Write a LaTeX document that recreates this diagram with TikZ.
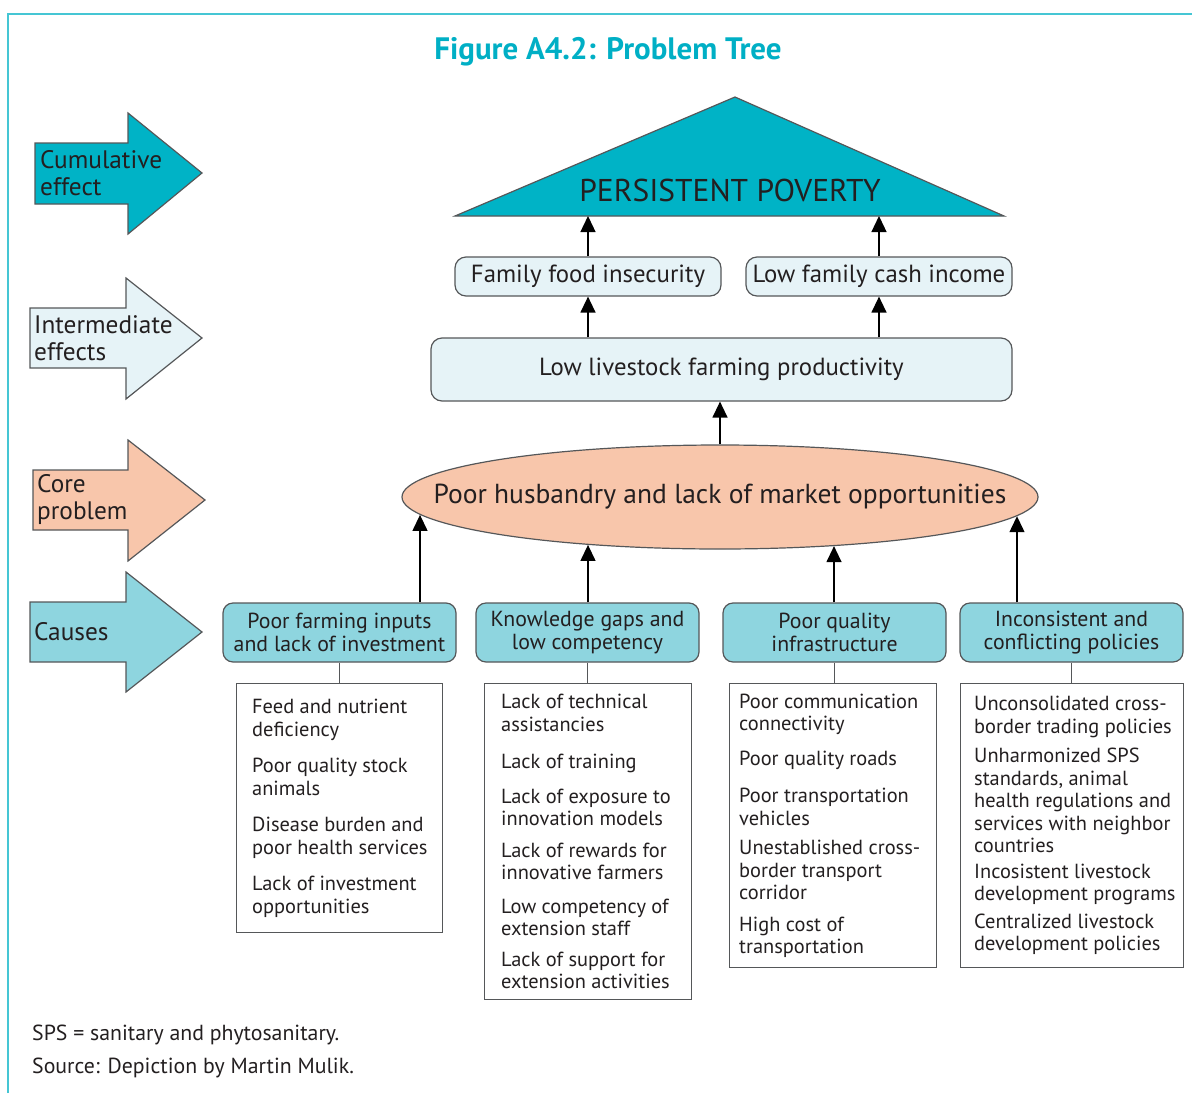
\documentclass[tikz,border=0pt]{standalone}
\usepackage{fontspec}
\setmainfont{PT Sans}
\usetikzlibrary{arrows.meta,shapes.geometric,positioning,calc}

\definecolor{treeteal}{HTML}{00B3C6}
\definecolor{titleteal}{HTML}{00AFC5}
\definecolor{bordercyan}{HTML}{45C6D4}
\definecolor{paleblue}{HTML}{E6F3F7}
\definecolor{corepeach}{HTML}{F8C6AB}
\definecolor{causeteal}{HTML}{8ED5DF}
\definecolor{edgegray}{HTML}{555759}
\definecolor{inkgray}{HTML}{231F20}

\begin{document}
\begin{tikzpicture}[x=1pt,y=-1pt,
    every node/.style={text=inkgray},
    outline/.style={draw=edgegray, line width=1.2pt},
    sidelabel/.style={anchor=west, align=left, inner sep=0pt, font=\fontsize{25.3}{27}\selectfont},
    effectbox/.style={outline, rounded corners=11pt, fill=paleblue, inner sep=0pt, font=\fontsize{24.8}{27}\selectfont},
    causebox/.style={outline, rounded corners=10pt, fill=causeteal, minimum width=223pt, minimum height=59pt,
        inner sep=0pt, align=center, font=\fontsize{21.8}{23}\selectfont},
    listbox/.style={outline, fill=white, anchor=north west, inner sep=0pt},
    listtext/.style={align=left, inner sep=0pt, font=\fontsize{20.4}{22.5}\selectfont},
    pointup/.style={line width=1.3pt, draw=black, -{Triangle[length=16pt,width=15pt]}},
    stem/.style={line width=1.3pt, draw=edgegray}]

    \useasboundingbox (0,0) rectangle (1192,1093);

    % frame and title
    \draw[bordercyan, line width=1.5pt] (8,1093) -- (8,14) -- (1192,14);
    \node[text=titleteal, font=\fontsize{31}{34}\selectfont\bfseries] (title) at (608,52) {Figure A4.2: Problem Tree};

    % side arrows
    \draw[outline, fill=treeteal] (35,143) -- (128,143) -- (128,113) -- (202,173) -- (128,234) -- (128,204) -- (35,204) -- cycle;
    \node[sidelabel] (cumlabel) at (40,173) {Cumulative\\effect};

    \draw[outline, fill=paleblue] (30,308) -- (126,308) -- (126,278) -- (202,338) -- (126,399) -- (126,368) -- (30,368) -- cycle;
    \node[sidelabel] (intlabel) at (34,338) {Intermediate\\effects};

    \draw[outline, fill=corepeach] (33,470) -- (128,470) -- (128,440) -- (205,500) -- (128,561) -- (128,530) -- (33,530) -- cycle;
    \node[sidelabel] (corelabel) at (37,500) {Core\\problem};

    \draw[outline, fill=causeteal] (30,602) -- (126,602) -- (126,572) -- (202,632) -- (126,692) -- (126,662) -- (30,662) -- cycle;
    \node[sidelabel] (causelabel) at (34,632) {Causes};

    % cumulative effect
    \draw[outline, fill=treeteal] (455,216) -- (735,97) -- (1004,216) -- cycle;
    \coordinate (povbase) at (730,216);
    \node[font=\fontsize{31.5}{34}\selectfont] (poverty) at (730,190) {PERSISTENT POVERTY};

    % intermediate effects
    \node[effectbox, minimum width=266pt, minimum height=39pt] (food) at (588,276.5) {Family food insecurity};
    \node[effectbox, minimum width=266pt, minimum height=39pt] (cash) at (879,276.5) {Low family cash income};
    \node[effectbox, minimum width=581pt, minimum height=63pt] (prod) at (721.5,369.5) {Low livestock farming productivity};

    \draw[pointup] (food.north) -- (food.north |- povbase);
    \draw[pointup] (cash.north) -- (cash.north |- povbase);
    \draw[pointup] (prod.north -| food.north) -- (food.south);
    \draw[pointup] (prod.north -| cash.north) -- (cash.south);

    % core problem
    \node[outline, ellipse, fill=corepeach, minimum width=636pt, minimum height=104pt, inner sep=0pt] (core) at (720,497) {};
    \node[font=\fontsize{27.5}{30}\selectfont] (coretext) at (core.center) {Poor husbandry and lack of market opportunities};
    \draw[pointup] (core.north) -- (core.north |- prod.south);

    % causes
    \node[causebox, minimum width=233pt] (cause1) at (339.5,632.5) {Poor farming inputs\\and lack of investment};
    \node[causebox] (cause2) at (587.5,632.5) {Knowledge gaps and\\low competency};
    \node[causebox] (cause3) at (834.5,632.5) {Poor quality\\infrastructure};
    \node[causebox] (cause4) at (1071.5,632.5) {Inconsistent and\\conflicting policies};

    % points where the cause arrows meet the ellipse
    \coordinate (hit1) at ($(core.center)+(-300,17.9)$);
    \coordinate (hit2) at ($(core.center)+(-132,47.9)$);
    \coordinate (hit3) at ($(core.center)+(114,49.1)$);
    \coordinate (hit4) at ($(core.center)+(297,19.2)$);

    \draw[pointup] (hit1 |- cause1.north) -- (hit1);
    \draw[pointup] (hit2 |- cause2.north) -- (hit2);
    \draw[pointup] (hit3 |- cause3.north) -- (hit3);
    \draw[pointup] (hit4 |- cause4.north) -- (hit4);

    % cause details
    \node[listbox, minimum width=206pt, minimum height=249pt] (list1) at (236,683) {};
    \node[listbox, minimum width=207pt, minimum height=316pt] (list2) at (484,683) {};
    \node[listbox, minimum width=207pt, minimum height=284pt] (list3) at (729,683) {};
    \node[listbox, minimum width=223pt, minimum height=284pt] (list4) at (960,683) {};

    \draw[stem] (cause1.south) -- (cause1.south |- list1.north);
    \draw[stem] (cause2.south) -- (cause2.south |- list2.north);
    \draw[stem] (cause3.south) -- (cause3.south |- list3.north);
    \draw[stem] (cause4.south) -- (cause4.south |- list4.north);

    \node[listtext, right=16pt of list1.west] (items1) {Feed and nutrient\\deficiency\\[14pt]
        Poor quality stock\\animals\\[14pt]
        Disease burden and\\poor health services\\[14pt]
        Lack of investment\\opportunities};
    \node[listtext, right=17pt of list2.west] (items2) {Lack of technical\\assistancies\\[15pt]
        Lack of training\\[12pt]
        Lack of exposure to\\innovation models\\[9pt]
        Lack of rewards for\\innovative farmers\\[11pt]
        Low competency of\\extension staff\\[8pt]
        Lack of support for\\extension activities};
    \node[listtext, right=10pt of list3.west] (items3) {Poor communication\\connectivity\\[12pt]
        Poor quality roads\\[15pt]
        Poor transportation\\vehicles\\[7pt]
        Unestablished cross-\\border transport\\corridor\\[9pt]
        High cost of\\transportation};
    \node[listtext, right=14pt of list4.west] (items4) {Unconsolidated cross-\\border trading policies\\[7pt]
        Unharmonized SPS\\standards, animal\\health regulations and\\services with neighbor\\countries\\[3pt]
        Incosistent livestock\\development programs\\[5pt]
        Centralized livestock\\development policies};

    % notes
    \node[anchor=north west, align=left, inner sep=0pt, font=\fontsize{21.8}{33}\selectfont] (note) at (32,1025)
        {SPS = sanitary and phytosanitary.\\Source: Depiction by Martin Mulik.};
\end{tikzpicture}
\end{document}
